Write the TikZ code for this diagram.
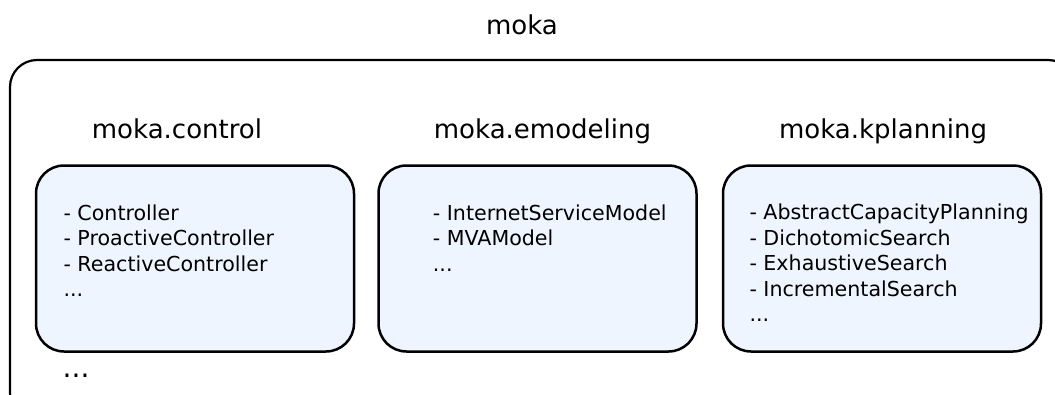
\documentclass[tikz,border=0pt]{standalone}
\usepackage{fontspec}
\setmainfont{DejaVu Sans}
\definecolor{boxfill}{RGB}{239,245,254}
\tikzset{
  outerbox/.style={draw=black, line width=2.2pt, rounded corners=27pt, rectangle, inner sep=0pt},
  pkgbox/.style={draw=black, line width=2.5pt, fill=boxfill, rounded corners=28pt, rectangle,
    minimum width=318pt, minimum height=186pt, inner sep=0pt},
  titletext/.style={font=\fontsize{26}{31}\selectfont, anchor=base, inner sep=0pt},
  listtext/.style={font=\fontsize{20.6}{25.6}\selectfont, anchor=base west, inner sep=0pt},
}
\begin{document}
\begin{tikzpicture}[x=1pt,y=-1pt]
\useasboundingbox (0,0) rectangle (1055,394);
\clip (0,0) rectangle (1055,394);
\node[outerbox, minimum width=1065pt, minimum height=360pt] (outer) at (542.5,240) {};
\node[titletext] (moka) at (522,34.5) {moka};
\node[titletext] (tcontrol) at (177,138.3) {moka.control};
\node[titletext] (temodeling) at (542.5,138.3) {moka.emodeling};
\node[titletext] (tkplanning) at (883,138.3) {moka.kplanning};
\node[pkgbox] (bcontrol) at (195,258.5) {};
\node[pkgbox] (bemodeling) at (537.5,258.5) {};
\node[pkgbox] (bkplanning) at (882,258.5) {};
\node[listtext] (lcontrol) at (63.3,220) {\begin{tabular}[t]{@{}l@{}}- Controller\\- ProactiveController\\- ReactiveController\\...\end{tabular}};
\node[listtext] (lemodeling) at (432.7,220) {\begin{tabular}[t]{@{}l@{}}- InternetServiceModel\\- MVAModel\\...\end{tabular}};
\node[listtext] (lkplanning) at (749.3,219.5) {\begin{tabular}[t]{@{}l@{}}- AbstractCapacityPlanning\\- DichotomicSearch\\- ExhaustiveSearch\\- IncrementalSearch\\...\end{tabular}};
\node[listtext, font=\fontsize{28}{33}\selectfont] (more) at (62.5,377) {...};
\end{tikzpicture}
\end{document}
